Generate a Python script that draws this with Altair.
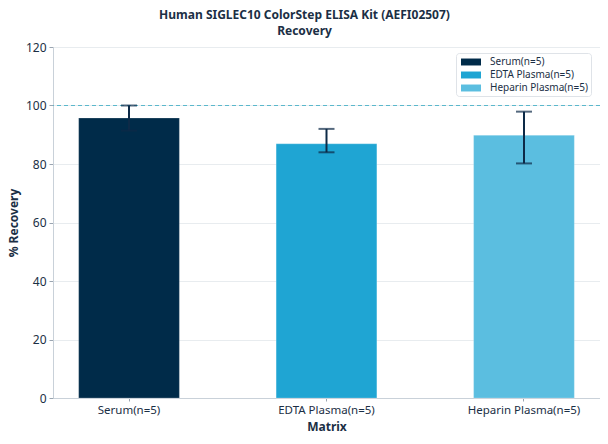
import altair as alt
import pandas as pd

categories = ["Serum(n=5)", "EDTA Plasma(n=5)", "Heparin Plasma(n=5)"]
means = [95.7, 86.9, 89.8]
err_low = [91.4, 84.0, 80.2]
err_high = [100.0, 92.0, 97.9]
colors = ["#002B49", "#1FA5D3", "#5BBEE0"]
y_ticks = [0, 20, 40, 60, 80, 100, 120]
reference = [100]

FONT = "Noto Sans"
TEXT = "#1b2f45"

df = pd.DataFrame({"Matrix": categories, "Recovery": means,
                   "lo": err_low, "hi": err_high})
ref_df = pd.DataFrame({"y": reference})

x_enc = alt.X("Matrix:N", sort=categories,
              scale=alt.Scale(paddingInner=0.49, paddingOuter=0.13),
              axis=alt.Axis(title="Matrix", labelAngle=0, labelFontSize=11.5,
                            titleFontSize=12, titleFontWeight="bold",
                            labelColor=TEXT, titleColor=TEXT, tickColor="#9aa5b1",
                            domainColor="#c9d1d9", tickSize=3, labelPadding=3,
                            titlePadding=6))
y_scale = alt.Scale(domain=[0, 120], nice=False)

bars = alt.Chart(df).mark_bar(stroke="#ffffff", strokeWidth=0.5, strokeOpacity=0.4).encode(
    x=x_enc,
    y=alt.Y("Recovery:Q", scale=y_scale,
            axis=alt.Axis(title="% Recovery", values=y_ticks, labelFontSize=12,
                          titleFontSize=12, titleFontWeight="bold",
                          labelColor=TEXT, titleColor=TEXT, gridColor="#e8ecef",
                          domainColor="#c9d1d9", tickColor="#9aa5b1", tickSize=4,
                          labelPadding=3, titlePadding=5)),
    color=alt.Color("Matrix:N", sort=categories,
                    scale=alt.Scale(domain=categories, range=colors),
                    legend=alt.Legend(title=None, orient="none", legendX=403, legendY=6,
                                      symbolType="M-0.67,-0.58L2.67,-0.58L2.67,0.58L-0.67,0.58Z",
                                      symbolSize=144, symbolStrokeWidth=0,
                                      labelFontSize=10, labelColor=TEXT,
                                      labelFont=FONT, rowPadding=2,
                                      padding=3, strokeColor="#dfe3e8",
                                      fillColor="#ffffff", cornerRadius=3,
                                      labelOffset=19)),
)

ref = alt.Chart(ref_df).mark_rule(color="#5bb8cc", strokeDash=[4, 3], strokeWidth=1).encode(
    y=alt.Y("y:Q", scale=y_scale)
)

rules = alt.Chart(df).mark_rule(color="#0d2a47", strokeWidth=2).encode(
    x=alt.X("Matrix:N", sort=categories),
    y=alt.Y("lo:Q", scale=y_scale),
    y2="hi:Q",
)
caps_hi = alt.Chart(df).mark_tick(color="#0d2a47", thickness=2, size=16).encode(
    x=alt.X("Matrix:N", sort=categories),
    y=alt.Y("hi:Q", scale=y_scale),
)
caps_lo = alt.Chart(df).mark_tick(color="#0d2a47", thickness=2, size=16).encode(
    x=alt.X("Matrix:N", sort=categories),
    y=alt.Y("lo:Q", scale=y_scale),
)

chart = alt.layer(bars, ref, rules, caps_hi, caps_lo).properties(
    width=547, height=351,
    title=alt.Title(["Human SIGLEC10 ColorStep ELISA Kit (AEFI02507)", "Recovery"],
                    fontSize=12, fontWeight="bold", color=TEXT, font=FONT,
                    anchor="middle", dx=-22, offset=3, lineHeight=16),
    autosize=alt.AutoSizeParams(type="none"),
    padding={"left": 45, "top": 39, "right": 0, "bottom": 44},
).configure(font=FONT).configure_view(stroke=None).configure_axis(
    labelFont=FONT, titleFont=FONT
)

chart.save("out.html", embed_options={"renderer": "svg", "actions": False})
